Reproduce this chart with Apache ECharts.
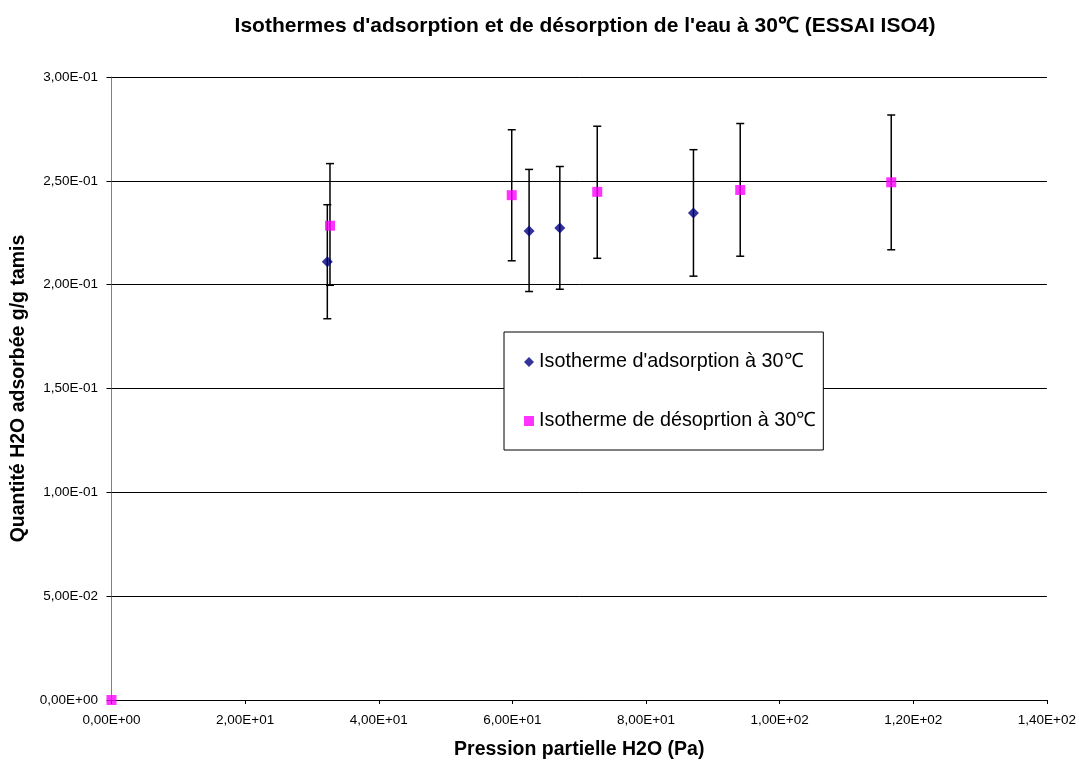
<!DOCTYPE html>
<html><head><meta charset="utf-8">
<script src="https://cdn.jsdelivr.net/npm/echarts@6/dist/echarts.min.js"></script>
<style>html,body{margin:0;padding:0;background:#fff}#c{width:1079px;height:765px}</style>
</head><body><div id="c"></div>
<script>
const titleText = "Isothermes d'adsorption et de désorption de l'eau à 30℃ (ESSAI ISO4)";
const xName = "Pression partielle H2O (Pa)";
const yName = "Quantité H2O adsorbée g/g tamis";
const adsName = "Isotherme d'adsorption à 30℃";
const desName = "Isotherme de désoprtion à 30℃";

const adsX = [32.3, 62.5, 67.1, 87.1];
const adsY = [0.2110, 0.2259, 0.2273, 0.2345];
const adsLo = [0.1836, 0.1967, 0.1978, 0.2041];
const adsHi = [0.2385, 0.2555, 0.2569, 0.2650];

const desX = [0, 32.7, 59.9, 72.7, 94.1, 116.7];
const desY = [0, 0.2284, 0.2431, 0.2447, 0.2456, 0.2493];
const desLo = [0, 0.1997, 0.2115, 0.2127, 0.2137, 0.2168];
const desHi = [0, 0.2583, 0.2746, 0.2763, 0.2776, 0.2817];

function sci(v){
  if (v === 0) return '0,00E+00';
  const e = Math.floor(Math.log10(Math.abs(v)) + 1e-9);
  const m = v / Math.pow(10, e);
  const es = (e < 0 ? '-' : '+') + String(Math.abs(e)).padStart(2, '0');
  return m.toFixed(2).replace('.', ',') + 'E' + es;
}

function errData(xs, lo, hi){
  return xs.map((x, i) => [x, lo[i], hi[i]]).filter(d => d[2] > d[1]);
}
function errRender(params, api){
  const x = api.value(0), lo = api.value(1), hi = api.value(2);
  const pLo = api.coord([x, lo]), pHi = api.coord([x, hi]);
  const w = 4;
  const st = {stroke: '#000', lineWidth: 1.5};
  return {type: 'group', children: [
    {type: 'line', shape: {x1: pLo[0], y1: pLo[1], x2: pHi[0], y2: pHi[1]}, style: st},
    {type: 'line', shape: {x1: pLo[0]-w, y1: pLo[1], x2: pLo[0]+w, y2: pLo[1]}, style: st},
    {type: 'line', shape: {x1: pHi[0]-w, y1: pHi[1], x2: pHi[0]+w, y2: pHi[1]}, style: st}
  ]};
}

const FONT = "'Liberation Sans', Arial, sans-serif";
const chart = echarts.init(document.getElementById('c'), null, {renderer: 'canvas'});
chart.setOption({
  animation: false,
  backgroundColor: '#fff',
  textStyle: {fontFamily: FONT},
  title: {
    text: titleText, left: 580, top: 11, textAlign: 'center',
    textStyle: {fontFamily: FONT, fontSize: 21, fontWeight: 'bold', color: '#000'}
  },
  grid: {left: 111.5, right: 31, top: 77, bottom: 59, containLabel: false},
  xAxis: {
    type: 'value', min: 0, max: 140, interval: 20,
    name: xName, nameLocation: 'middle', nameGap: 40,
    nameTextStyle: {fontFamily: FONT, fontSize: 19.5, fontWeight: 'bold', color: '#000'},
    axisLine: {onZero: false, lineStyle: {color: '#000', width: 1}},
    axisTick: {show: true, inside: false, length: 4, lineStyle: {color: '#000'}},
    axisLabel: {formatter: sci, fontFamily: FONT, fontSize: 13.5, color: '#000', margin: 13},
    splitLine: {show: false}
  },
  yAxis: {
    type: 'value', min: 0, max: 0.3, interval: 0.05,
    name: yName, nameLocation: 'middle', nameGap: 81, nameRotate: 90,
    nameTextStyle: {fontFamily: FONT, fontSize: 19.5, fontWeight: 'bold', color: '#000'},
    axisLine: {show: true, lineStyle: {color: '#808080', width: 1}},
    axisTick: {show: true, inside: false, length: 5, lineStyle: {color: '#000'}},
    axisLabel: {formatter: sci, fontFamily: FONT, fontSize: 13.5, color: '#000', margin: 13.5},
    splitLine: {show: true, lineStyle: {color: '#000', width: 1}}
  },
  legend: {
    orient: 'vertical', left: 504, top: 332,
    padding: [20, 7, 19, 20],
    itemGap: 39, itemWidth: 10, itemHeight: 10,
    backgroundColor: '#fff', borderColor: '#000', borderWidth: 1,
    textStyle: {fontFamily: FONT, fontSize: 19.8, color: '#000', lineHeight: 20},
    data: [
      {name: adsName, icon: 'diamond'},
      {name: desName, icon: 'rect'}
    ]
  },
  series: [
    {type: 'custom', name: 'errAds', renderItem: errRender, data: errData(adsX, adsLo, adsHi), z: 2, silent: true},
    {type: 'custom', name: 'errDes', renderItem: errRender, data: errData(desX, desLo, desHi), z: 2, silent: true},
    {type: 'scatter', name: adsName, symbol: 'diamond', symbolSize: [11, 11],
     itemStyle: {color: '#000080'}, data: adsX.map((x, i) => [x, adsY[i]]), z: 5},
    {type: 'scatter', name: desName, symbol: 'rect', symbolSize: 10,
     itemStyle: {color: '#FF00FF'}, data: desX.map((x, i) => [x, desY[i]]), z: 5, clip: false}
  ]
});
</script></body></html>
